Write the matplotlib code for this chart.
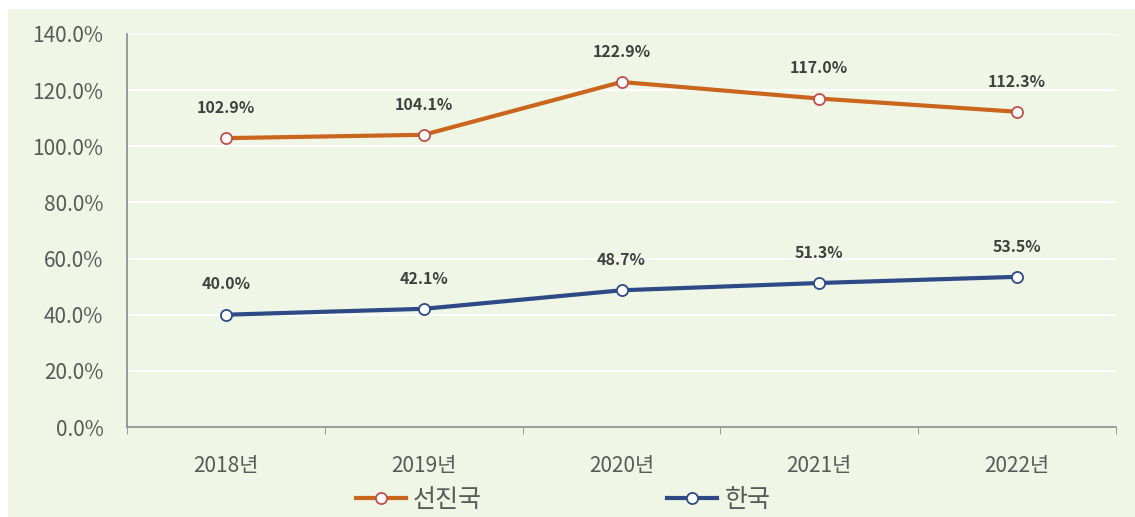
import matplotlib.pyplot as plt
import matplotlib.patches as patches
import numpy as np

plt.rcParams['font.family'] = ['Noto Sans CJK KR', 'DejaVu Sans']

# 데이터
years = ["2018년", "2019년", "2020년", "2021년", "2022년"]
advanced = [102.9, 104.1, 122.9, 117.0, 112.3]
korea = [40.0, 42.1, 48.7, 51.3, 53.5]
names = ["선진국", "한국"]

bg = "#eff6e5"
orange = "#c9651c"
blue = "#2e4a86"
txt = "#595959"

fig = plt.figure(figsize=(11.35, 5.17), dpi=100)
fig.patch.set_facecolor("white")
fig.patches.append(patches.Rectangle((8/1135, 0), 1 - 8/1135, 1 - 9/517,
                                     transform=fig.transFigure, facecolor=bg,
                                     edgecolor="none", zorder=-10))

ax = fig.add_axes([127/1135, 1 - 427/517, (1116 - 127)/1135, (427 - 34)/517])
ax.set_facecolor("none")

x = np.arange(len(years))
ax.plot(x, advanced, color=orange, lw=3, marker="o", ms=8,
        mfc="white", mec="#c0504d", mew=1.3, label=names[0], zorder=3)
ax.plot(x, korea, color=blue, lw=3, marker="o", ms=8,
        mfc="white", mec=blue, mew=1.3, label=names[1], zorder=3)

# 데이터 레이블
for xi, v in zip(x, advanced):
    ax.annotate(f"{v:.1f}%", (xi, v), xytext=(0, 16), textcoords="offset points",
                ha="center", va="bottom", fontsize=11.5, fontweight="bold", color="#404040")
for xi, v in zip(x, korea):
    ax.annotate(f"{v:.1f}%", (xi, v), xytext=(0, 16), textcoords="offset points",
                ha="center", va="bottom", fontsize=11.5, fontweight="bold", color="#404040")

ax.set_xlim(-0.5, len(years) - 0.5)
ax.set_ylim(0, 140)
ax.set_yticks(np.arange(0, 141, 20))
ax.set_yticklabels([f"{t:.1f}%" for t in np.arange(0, 141, 20)])
ax.set_xticks(x)
ax.set_xticklabels(years)
ax.set_xticks(np.arange(-0.5, len(years), 1), minor=True)
ax.tick_params(axis="x", which="major", length=0, pad=20, labelsize=15, labelcolor=txt)
ax.tick_params(axis="x", which="minor", length=5, color="#8c8c8c")
ax.tick_params(axis="y", length=0, pad=17, labelsize=15, labelcolor=txt)

ax.grid(axis="y", color="white", lw=1.5)
ax.set_axisbelow(True)
for s in ["top", "right"]:
    ax.spines[s].set_visible(False)
for s in ["left", "bottom"]:
    ax.spines[s].set_color("#8c8c8c")
    ax.spines[s].set_linewidth(1.2)

fig.legend(loc="center", bbox_to_anchor=(563/1135, 1 - 500/517), ncol=2,
           frameon=False, fontsize=18, handlelength=2.0, handletextpad=0.3,
           columnspacing=7.4, labelcolor=txt)

fig.savefig("out.png", dpi=100, facecolor=fig.get_facecolor())
